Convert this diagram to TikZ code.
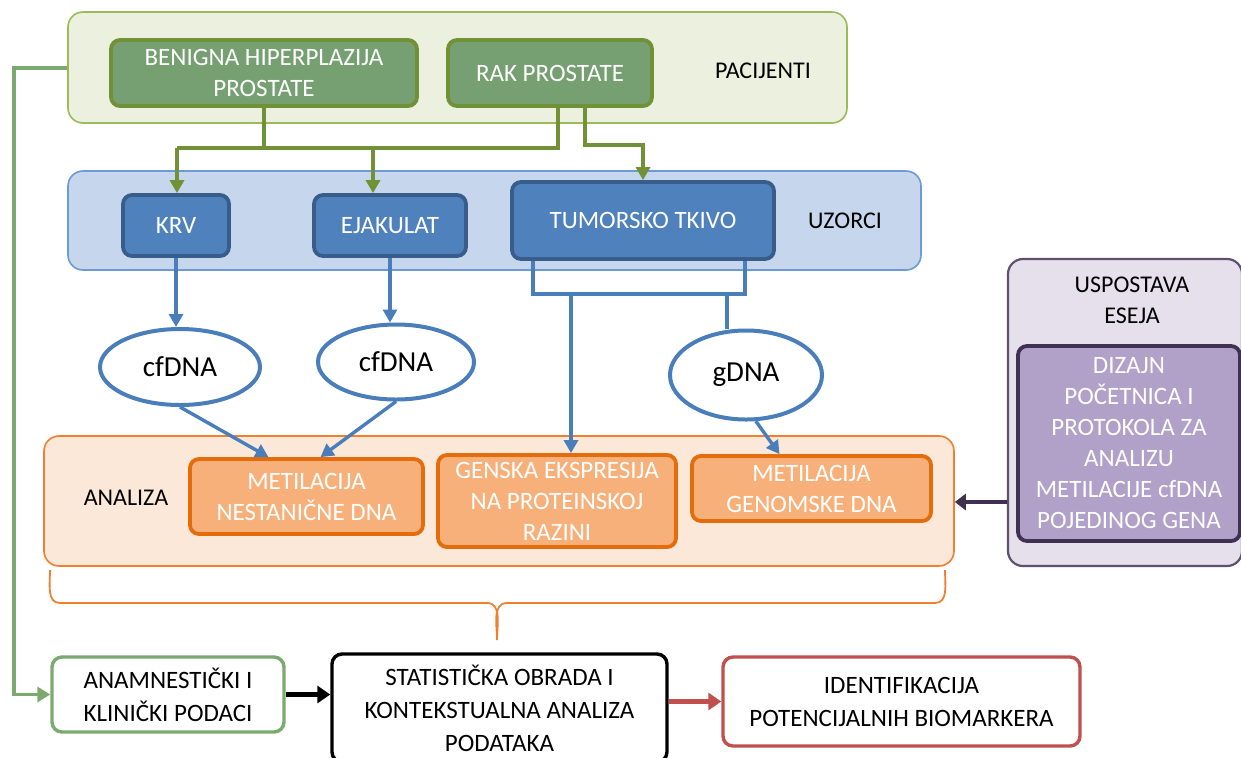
\documentclass[tikz,border=0pt]{standalone}
\usepackage{fontspec}
\setmainfont{Carlito}
\usetikzlibrary{arrows.meta, positioning, shapes.geometric}
\definecolor{pacfill}{RGB}{235, 241, 222}
\definecolor{pacline}{RGB}{155, 187, 89}
\definecolor{pacbox}{RGB}{118, 160, 114}
\definecolor{olive}{RGB}{112, 145, 54}
\definecolor{uzfill}{RGB}{198, 214, 236}
\definecolor{uzline}{RGB}{108, 154, 216}
\definecolor{uzbox}{RGB}{79, 129, 189}
\definecolor{uzdark}{RGB}{56, 93, 138}
\definecolor{dnaline}{RGB}{74, 126, 187}
\definecolor{anfill}{RGB}{252, 232, 216}
\definecolor{anline}{RGB}{240, 128, 48}
\definecolor{anbox}{RGB}{248, 176, 122}
\definecolor{andark}{RGB}{228, 108, 10}
\definecolor{usfill}{RGB}{229, 224, 236}
\definecolor{usline}{RGB}{96, 80, 110}
\definecolor{usbox}{RGB}{177, 160, 199}
\definecolor{usdark}{RGB}{64, 49, 82}
\definecolor{clin}{RGB}{122, 170, 112}
\definecolor{biored}{RGB}{192, 80, 77}

\begin{document}
\begin{tikzpicture}[x=0.5pt, y=-0.5pt,
    group/.style={rectangle, rounded corners=7.5pt, draw, line width=0.8pt},
    label/.style={font=\fontsize{12}{15.5}\selectfont, align=center},
    box/.style={rectangle, rounded corners=4.5pt, draw, line width=1.9pt,
                align=center, text=white, font=\fontsize{12.5}{15.5}\selectfont},
    dna/.style={ellipse, draw=dnaline, fill=white, line width=2pt, inner sep=0pt,
                font=\fontsize{14.5}{16}\selectfont},
    outbox/.style={rectangle, rounded corners=5pt, draw, fill=white, line width=1.7pt,
                   align=center, font=\fontsize{12.5}{16.5}\selectfont},
    gline/.style={draw=olive, line width=1.9pt},
    garrow/.style={gline, -{Triangle[width=7pt, length=6.5pt]}},
    bline/.style={draw=dnaline, line width=1.7pt},
    barrow/.style={bline, -{Triangle[width=7pt, length=6.5pt]}}]

    \useasboundingbox (0,0) rectangle (1241,757);

    % Patients
    \node[group, fill=pacfill, draw=pacline, minimum width=389.5pt, minimum height=55.5pt] (pac) at (457.5,67.5) {};
    \node[box, fill=pacbox, draw=olive, minimum width=153pt, minimum height=33pt] (bph) at (264,73) {BENIGNA HIPERPLAZIJA\\PROSTATE};
    \node[box, fill=pacbox, draw=olive, minimum width=102pt, minimum height=33pt] (rak) at (550,73) {RAK PROSTATE};
    \node[label] (paclab) at (763,71) {PACIJENTI};

    % Samples
    \node[group, fill=uzfill, draw=uzline, minimum width=426.5pt, minimum height=49.5pt] (uz) at (494.5,220.5) {};
    \node[box, fill=uzbox, draw=uzdark, minimum width=53pt, minimum height=30.5pt] (krv) at (176,225.5) {KRV};
    \node[box, fill=uzbox, draw=uzdark, minimum width=76pt, minimum height=30.5pt] (ejak) at (390,225.5) {EJAKULAT};
    \node[box, fill=uzbox, draw=uzdark, minimum width=131pt, minimum height=38.5pt] (tumor) at (643,220.5) {TUMORSKO TKIVO};
    \node[label] (uzlab) at (845,221) {UZORCI};

    % DNA
    \node[dna, minimum width=80pt, minimum height=38pt] (cf1) at (180,367) {cfDNA};
    \node[dna, minimum width=78pt, minimum height=37.5pt] (cf2) at (396,362) {cfDNA};
    \node[dna, minimum width=76pt, minimum height=44.5pt] (gdna) at (746,375) {gDNA};

    % Analysis
    \node[group, fill=anfill, draw=anline, minimum width=455pt, minimum height=65pt] (an) at (499,501) {};
    \node[box, fill=anbox, draw=andark, minimum width=116.5pt, minimum height=37.5pt] (metn) at (306.5,496.5) {METILACIJA\\NESTANIČNE DNA};
    \node[box, fill=anbox, draw=andark, minimum width=119pt, minimum height=46pt] (genska) at (557,501) {GENSKA EKSPRESIJA\\NA PROTEINSKOJ\\RAZINI};
    \node[box, fill=anbox, draw=andark, minimum width=119.5pt, minimum height=32.5pt] (metg) at (811.5,488.5) {METILACIJA\\GENOMSKE DNA};
    \node[label] (anlab) at (126,498) {ANALIZA};

    % Assay setup
    \node[group, fill=usfill, draw=usline, line width=1.1pt, minimum width=117pt, minimum height=153.5pt] (us) at (1125,412.5) {};
    \node[label] (uslab) at (1132,300) {USPOSTAVA\\ESEJA};
    \node[box, fill=usbox, draw=usdark, minimum width=111pt, minimum height=97.5pt] (dizajn) at (1129,443.5) {DIZAJN\\POČETNICA I\\PROTOKOLA ZA\\ANALIZU\\METILACIJE cfDNA\\POJEDINOG GENA};

    % Results
    \node[outbox, draw=clin, minimum width=116pt, minimum height=37.5pt] (anam) at (168,694.5) {ANAMNESTIČKI I\\KLINIČKI PODACI};
    \node[outbox, draw=black, minimum width=167.5pt, minimum height=54pt] (stat) at (499.5,708) {STATISTIČKA OBRADA I\\KONTEKSTUALNA ANALIZA\\PODATAKA};
    \node[outbox, draw=biored, minimum width=178.5pt, minimum height=44.5pt] (ident) at (901.5,701.5) {IDENTIFIKACIJA\\POTENCIJALNIH BIOMARKERA};

    % Patients -> samples
    \coordinate (gL) at (177,148);
    \coordinate (gM) at (373,148);
    \draw[gline] (bph.south) -- (bph.south |- gL);
    \draw[gline] ([xshift=4pt]rak.south) |- (gL);
    \draw[garrow] (gL) -- (krv.north -| gL);
    \draw[garrow] (gM) -- (ejak.north -| gM);
    \draw[garrow] ([xshift=17.5pt]rak.south) -- ++(0,37) -| (tumor.north);

    % Samples -> DNA -> analysis
    \coordinate (tbar) at (571,294);
    \coordinate (gbar) at (727,294);
    \draw[barrow] (krv.south) -- (krv.south |- cf1.north);
    \draw[barrow] (ejak.south) -- (ejak.south |- cf2.north);
    \draw[bline] ([xshift=-55pt]tumor.south) |- (gbar) -| ([xshift=51pt]tumor.south);
    \draw[barrow] (tbar) -- (tbar |- genska.north);
    \draw[bline] (gbar) -- (gbar |- gdna.north);
    \draw[barrow] (cf1.south) -- ([xshift=-19pt]metn.north);
    \draw[barrow] (cf2.south) -- ([xshift=7pt]metn.north);
    \draw[barrow] (gdna.-78) -- ([xshift=-16pt]metg.north);

    % Assay -> analysis
    \draw[draw=usdark, line width=2.2pt, -{Triangle[width=8pt, length=5.5pt]}] (us.west |- 0,502) -- (an.east |- 0,502);

    % Brace under the analysis
    \draw[draw=anline, line width=0.9pt] (50,570) to[out=-90, in=180] (60,603) -- (487,603)
        to[out=0, in=90] (497,640) to[out=90, in=180] (507,603) -- (935,603) to[out=0, in=-90] (945,570);

    % Clinical data and results
    \coordinate (gleft) at (14,68);
    \draw[draw=clin, line width=1.8pt, -{Triangle[width=7.5pt, length=6.5pt]}] (pac.west |- gleft) -- (gleft) |- (anam.west);
    \draw[draw=black, line width=2.4pt, -{Triangle[width=8.5pt, length=6.5pt]}] (anam.east) -- (stat.west |- anam.east);
    \draw[draw=biored, line width=2.4pt, -{Triangle[width=8.5pt, length=6.5pt]}] (stat.east |- ident.west) -- (ident.west);
\end{tikzpicture}
\end{document}
